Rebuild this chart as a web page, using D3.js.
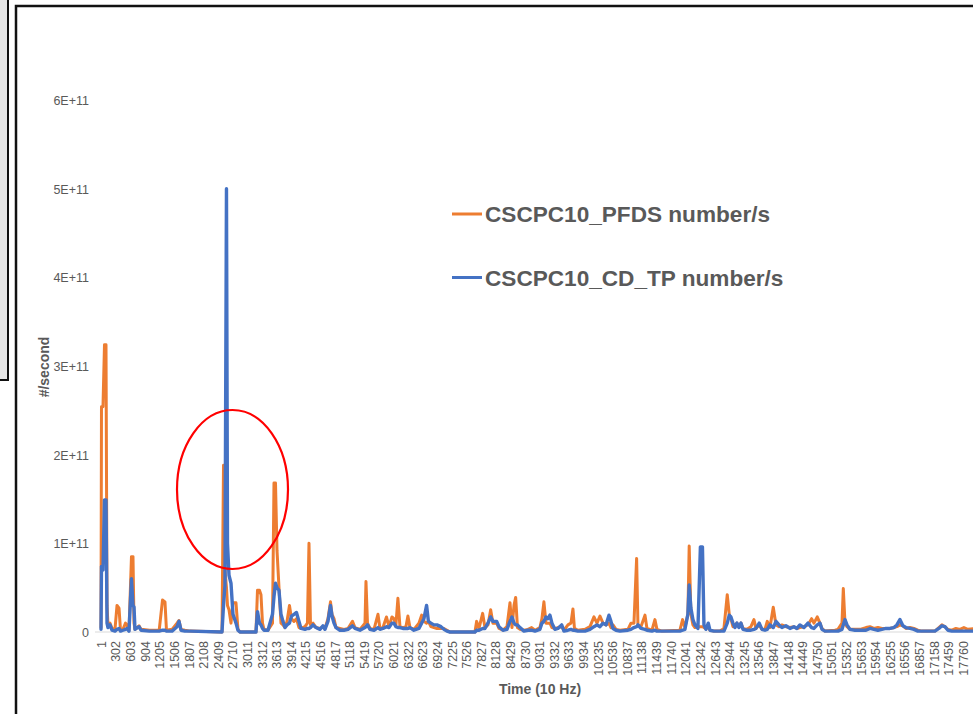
<html>
<head>
<meta charset="utf-8">
<script src="https://cdn.jsdelivr.net/npm/d3@7/dist/d3.min.js"></script>
<style>
  body { margin: 0; background: #fff; font-family: "Liberation Sans", Arial, sans-serif; }
  svg { display: block; }
  .tick text { fill: #595959; }
</style>
</head>
<body>
<script>
// sample index (10 Hz) and values in units of 1E+11 #/second
var times = [
  1, 11, 42, 73, 104, 125, 145, 186, 228, 289,
  331, 372, 403, 454, 506, 537, 578, 629, 660, 681,
  701, 784, 825, 1000, 1200, 1268, 1319, 1350, 1464, 1567,
  1608, 1649, 1731, 1835, 2494, 2525, 2555, 2586, 2607, 2638,
  2679, 2720, 2782, 2823, 2864, 3194, 3225, 3266, 3297, 3328,
  3359, 3441, 3534, 3565, 3596, 3627, 3668, 3709, 3750, 3792,
  3833, 3884, 3925, 3977, 4028, 4080, 4121, 4203, 4254, 4286,
  4317, 4368, 4430, 4512, 4574, 4615, 4677, 4729, 4760, 4801,
  4842, 4924, 5007, 5089, 5182, 5233, 5336, 5440, 5460, 5491,
  5543, 5625, 5707, 5748, 5810, 5882, 5934, 5995, 6036, 6077,
  6118, 6160, 6221, 6283, 6324, 6366, 6448, 6551, 6607, 6654,
  6709, 6746, 6798, 6860, 6922, 7005, 7066, 7128, 7190, 7705,
  7740, 7788, 7864, 7911, 7973, 8029, 8076, 8153, 8200, 8283,
  8365, 8427, 8468, 8510, 8544, 8581, 8633, 8715, 8797, 8873,
  8941, 9044, 9085, 9126, 9168, 9209, 9250, 9291, 9353, 9415,
  9492, 9539, 9621, 9683, 9724, 9755, 9828, 9972, 10075, 10157,
  10219, 10281, 10343, 10404, 10466, 10507, 10549, 10611, 10693, 10858,
  10919, 10981, 11036, 11063, 11125, 11208, 11249, 11352, 11413, 11455,
  11558, 11928, 11983, 12031, 12092, 12119, 12154, 12196, 12237, 12299,
  12350, 12392, 12423, 12464, 12512, 12547, 12629, 12753, 12835, 12903,
  12944, 12979, 13020, 13062, 13103, 13144, 13185, 13227, 13309, 13391,
  13453, 13494, 13562, 13618, 13680, 13727, 13783, 13851, 13907, 13969,
  14030, 14112, 14195, 14277, 14339, 14400, 14483, 14565, 14641, 14689,
  14757, 14813, 14854, 14916, 15122, 15184, 15267, 15294, 15329, 15370,
  15431, 15534, 15637, 15760, 15843, 15925, 16007, 16090, 16172, 16254,
  16337, 16398, 16460, 16522, 16584, 16666, 16749, 16831, 16913, 17181,
  17263, 17325, 17387, 17449, 17531, 17614, 17696, 17778, 17860, 18005
];

var pfds = [
  0.05, 2.54, 2.54, 3.24, 3.24, 0.30, 0.08, 0.10, 0.04, 0.03,
  0.30, 0.27, 0.02, 0.03, 0.10, 0.08, 0.02, 0.85, 0.85, 0.10,
  0.03, 0.07, 0.03, 0.02, 0.02, 0.36, 0.34, 0.02, 0.03, 0.10,
  0.13, 0.03, 0.02, 0.01, 0.00, 1.88, 0.70, 0.50, 0.30, 0.25,
  0.10, 0.33, 0.33, 0.03, 0.00, 0.00, 0.47, 0.47, 0.42, 0.10,
  0.03, 0.02, 0.10, 1.68, 1.68, 0.92, 0.50, 0.10, 0.08, 0.05,
  0.12, 0.30, 0.15, 0.12, 0.15, 0.05, 0.04, 0.06, 0.10, 1.00,
  0.08, 0.10, 0.05, 0.04, 0.06, 0.04, 0.15, 0.34, 0.20, 0.15,
  0.05, 0.04, 0.03, 0.04, 0.12, 0.05, 0.03, 0.10, 0.57, 0.10,
  0.04, 0.03, 0.20, 0.04, 0.05, 0.17, 0.06, 0.17, 0.15, 0.08,
  0.38, 0.06, 0.05, 0.06, 0.18, 0.05, 0.03, 0.10, 0.19, 0.12,
  0.10, 0.12, 0.06, 0.05, 0.04, 0.04, 0.04, 0.02, 0.00, 0.00,
  0.12, 0.04, 0.21, 0.05, 0.08, 0.25, 0.10, 0.10, 0.04, 0.02,
  0.06, 0.33, 0.05, 0.30, 0.39, 0.05, 0.03, 0.02, 0.03, 0.05,
  0.02, 0.05, 0.15, 0.34, 0.10, 0.10, 0.10, 0.05, 0.04, 0.05,
  0.06, 0.02, 0.08, 0.10, 0.26, 0.04, 0.02, 0.03, 0.06, 0.17,
  0.10, 0.18, 0.10, 0.08, 0.10, 0.05, 0.08, 0.03, 0.02, 0.03,
  0.10, 0.10, 0.83, 0.08, 0.06, 0.19, 0.04, 0.02, 0.14, 0.03,
  0.01, 0.02, 0.14, 0.05, 0.20, 0.97, 0.20, 0.08, 0.05, 0.06,
  0.06, 0.06, 0.05, 0.04, 0.05, 0.02, 0.01, 0.01, 0.04, 0.42,
  0.20, 0.15, 0.06, 0.08, 0.10, 0.06, 0.10, 0.04, 0.03, 0.06,
  0.14, 0.04, 0.08, 0.03, 0.03, 0.12, 0.05, 0.28, 0.08, 0.06,
  0.08, 0.06, 0.05, 0.06, 0.04, 0.05, 0.06, 0.08, 0.15, 0.10,
  0.17, 0.10, 0.04, 0.01, 0.02, 0.03, 0.10, 0.49, 0.10, 0.06,
  0.03, 0.03, 0.03, 0.05, 0.06, 0.04, 0.05, 0.04, 0.04, 0.04,
  0.05, 0.06, 0.08, 0.07, 0.04, 0.05, 0.04, 0.02, 0.01, 0.01,
  0.05, 0.08, 0.06, 0.03, 0.02, 0.04, 0.03, 0.05, 0.03, 0.04
];

var cdtp = [
  0.03, 0.74, 0.70, 1.49, 1.49, 0.10, 0.05, 0.08, 0.02, 0.01,
  0.03, 0.04, 0.01, 0.02, 0.03, 0.04, 0.01, 0.60, 0.30, 0.28,
  0.03, 0.06, 0.02, 0.01, 0.01, 0.02, 0.02, 0.01, 0.01, 0.06,
  0.12, 0.02, 0.01, 0.01, 0.00, 0.30, 0.53, 5.00, 1.00, 0.64,
  0.55, 0.20, 0.10, 0.02, 0.00, 0.00, 0.23, 0.10, 0.08, 0.04,
  0.02, 0.02, 0.20, 0.40, 0.55, 0.50, 0.47, 0.20, 0.12, 0.05,
  0.08, 0.10, 0.18, 0.20, 0.22, 0.12, 0.04, 0.03, 0.04, 0.04,
  0.05, 0.08, 0.05, 0.03, 0.07, 0.03, 0.12, 0.30, 0.18, 0.10,
  0.05, 0.02, 0.02, 0.03, 0.07, 0.04, 0.02, 0.05, 0.06, 0.08,
  0.03, 0.02, 0.05, 0.03, 0.04, 0.06, 0.05, 0.10, 0.10, 0.06,
  0.05, 0.05, 0.04, 0.04, 0.04, 0.05, 0.02, 0.04, 0.10, 0.15,
  0.30, 0.12, 0.10, 0.08, 0.08, 0.06, 0.03, 0.01, 0.00, 0.00,
  0.02, 0.02, 0.04, 0.04, 0.10, 0.17, 0.12, 0.12, 0.06, 0.02,
  0.03, 0.12, 0.17, 0.10, 0.08, 0.08, 0.05, 0.01, 0.02, 0.02,
  0.01, 0.03, 0.10, 0.12, 0.17, 0.15, 0.19, 0.10, 0.03, 0.04,
  0.08, 0.01, 0.02, 0.03, 0.02, 0.02, 0.01, 0.01, 0.03, 0.06,
  0.08, 0.06, 0.10, 0.08, 0.19, 0.12, 0.04, 0.02, 0.01, 0.02,
  0.03, 0.05, 0.06, 0.08, 0.04, 0.03, 0.02, 0.01, 0.02, 0.01,
  0.01, 0.01, 0.02, 0.03, 0.20, 0.53, 0.27, 0.14, 0.08, 0.04,
  0.96, 0.96, 0.08, 0.03, 0.10, 0.02, 0.01, 0.01, 0.01, 0.10,
  0.19, 0.17, 0.10, 0.05, 0.10, 0.05, 0.10, 0.03, 0.02, 0.02,
  0.03, 0.04, 0.10, 0.03, 0.02, 0.03, 0.08, 0.05, 0.12, 0.08,
  0.05, 0.07, 0.04, 0.06, 0.04, 0.08, 0.05, 0.10, 0.05, 0.04,
  0.08, 0.10, 0.03, 0.01, 0.01, 0.01, 0.03, 0.08, 0.14, 0.08,
  0.03, 0.02, 0.02, 0.02, 0.04, 0.03, 0.02, 0.03, 0.04, 0.04,
  0.05, 0.08, 0.14, 0.07, 0.05, 0.04, 0.03, 0.01, 0.01, 0.01,
  0.04, 0.07, 0.06, 0.02, 0.01, 0.01, 0.01, 0.01, 0.01, 0.01
];

var xTickLabels = [
  1, 302, 603, 904, 1205, 1506, 1807, 2108, 2409, 2710,
  3011, 3312, 3613, 3914, 4215, 4516, 4817, 5118, 5419, 5720,
  6021, 6322, 6623, 6924, 7225, 7526, 7827, 8128, 8429, 8730,
  9031, 9332, 9633, 9934, 10235, 10536, 10837, 11138, 11439, 11740,
  12041, 12342, 12643, 12944, 13245, 13546, 13847, 14148, 14449, 14750,
  15051, 15352, 15653, 15954, 16255, 16556, 16857, 17158, 17459, 17760
];
var yTicks = [0, 1, 2, 3, 4, 5, 6];
var seriesNames = ["CSCPC10_PFDS number/s", "CSCPC10_CD_TP number/s"];
var colors = ["#ed7d31", "#4472c4"];

var width = 973, height = 714;

var svg = d3.select("body").append("svg")
    .attr("width", width)
    .attr("height", height);

// left grey box and the chart frame
svg.append("rect")
    .attr("x", -2).attr("y", -2)
    .attr("width", 10).attr("height", 382)
    .attr("fill", "#e7e7e7")
    .attr("stroke", "#111").attr("stroke-width", 2);

svg.append("path")
    .attr("d", "M16," + height + "V6H" + (width + 5))
    .attr("fill", "none")
    .attr("stroke", "#111")
    .attr("stroke-width", 2.5);

var x = d3.scaleLinear().domain([1, 17760]).range([101, 963]);
var y = d3.scaleLinear().domain([0, 6]).range([632, 100]);

// y axis (labels only)
var yAxis = svg.append("g")
    .attr("transform", "translate(89,0)")
    .call(d3.axisLeft(y).tickValues(yTicks).tickSize(0).tickPadding(0)
        .tickFormat(function(d) { return d === 0 ? "0" : d + "E+11"; }));
yAxis.select(".domain").remove();
yAxis.selectAll("text")
    .attr("font-family", "'Liberation Sans', Arial, sans-serif")
    .attr("font-size", 12.5)
    .attr("dy", "0.35em");

// x axis baseline
svg.append("line")
    .attr("x1", 95).attr("x2", width)
    .attr("y1", y(0)).attr("y2", y(0))
    .attr("stroke", "#d9d9d9").attr("stroke-width", 1);

var xAxis = svg.append("g")
    .attr("transform", "translate(0," + (y(0) + 7) + ")")
    .call(d3.axisBottom(x).tickValues(xTickLabels).tickSize(0).tickPadding(0)
        .tickFormat(function(d) { return d; }));
xAxis.select(".domain").remove();
xAxis.selectAll("text")
    .attr("font-family", "'Liberation Sans', Arial, sans-serif")
    .attr("font-size", 12.5)
    .attr("transform", "rotate(-90)")
    .attr("text-anchor", "end")
    .attr("x", -2)
    .attr("y", 0)
    .attr("dy", "0.35em");

// lines
var line = d3.line()
    .x(function(d) { return x(d.t); })
    .y(function(d) { return y(d.v); });

[pfds, cdtp].forEach(function(vals, i) {
    var pts = times.map(function(t, j) { return { t: t, v: vals[j] }; });
    svg.append("path")
        .datum(pts)
        .attr("d", line)
        .attr("fill", "none")
        .attr("stroke", colors[i])
        .attr("stroke-width", i === 0 ? 3 : 3.4)
        .attr("stroke-linejoin", "round")
        .attr("stroke-linecap", "round");
});

// axis titles
svg.append("text")
    .attr("x", 540).attr("y", 694)
    .attr("text-anchor", "middle")
    .attr("font-size", 14).attr("font-weight", "bold")
    .attr("fill", "#595959")
    .text("Time (10 Hz)");

svg.append("text")
    .attr("transform", "translate(49,367) rotate(-90)")
    .attr("text-anchor", "middle")
    .attr("font-size", 14).attr("font-weight", "bold")
    .attr("fill", "#595959")
    .text("#/second");

// legend
var legend = svg.append("g").selectAll("g")
    .data(seriesNames)
    .enter().append("g")
    .attr("transform", function(d, i) { return "translate(452," + (214 + i * 63.5) + ")"; });

legend.append("line")
    .attr("x1", 0).attr("x2", 30)
    .attr("stroke", function(d, i) { return colors[i]; })
    .attr("stroke-width", 3);

legend.append("text")
    .attr("x", 33).attr("y", 8)
    .attr("font-size", 22.6).attr("font-weight", "bold")
    .attr("fill", "#595959")
    .text(function(d) { return d; });

// red highlight ellipse
svg.append("ellipse")
    .attr("cx", 232.5).attr("cy", 489.5)
    .attr("rx", 55.5).attr("ry", 79.5)
    .attr("fill", "none")
    .attr("stroke", "#ff0000")
    .attr("stroke-width", 2.2);
</script>
</body>
</html>
